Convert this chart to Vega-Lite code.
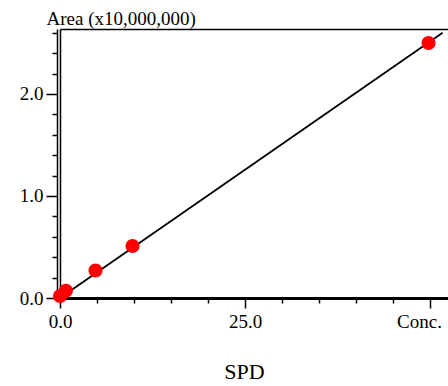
{
  "$schema": "https://vega.github.io/schema/vega-lite/v6.json",
  "width": 388,
  "height": 269,
  "autosize": "none",
  "padding": {"left": 60, "top": 29, "right": 0, "bottom": 88},
  "background": "white",
  "config": {
    "view": {"stroke": null},
    "font": "Liberation Serif",
    "axis": {"labelFont": "Liberation Serif", "titleFont": "Liberation Serif", "labelColor": "black", "titleColor": "black", "domainColor": "black", "tickColor": "black", "grid": false, "titleFontWeight": "normal"}
  },
  "datasets": {
    "fit": [{"conc": 0, "area": 0}, {"conc": 51.7, "area": 2.6}],
    "pts": [
      {"conc": 0, "area": 0.02},
      {"conc": 0.8, "area": 0.07},
      {"conc": 4.8, "area": 0.27},
      {"conc": 9.8, "area": 0.51},
      {"conc": 49.8, "area": 2.5}
    ]
  },
  "resolve": {"axis": {"x": "independent", "y": "independent"}},
  "layer": [
    {
      "data": {"name": "fit"},
      "mark": {"type": "line", "color": "black", "strokeWidth": 1.8},
      "encoding": {
        "x": {
          "field": "conc", "type": "quantitative",
          "scale": {"domain": [0, 52.43], "nice": false, "zero": false},
          "axis": {
            "orient": "bottom",
            "values": [0, 5, 10, 15, 20, 25, 30, 35, 40, 45, 50],
            "labelExpr": "datum.value == 0 ? '0.0' : datum.value == 25 ? '25.0' : datum.value == 50 ? 'Conc.' : ''",
            "labelFontSize": 19,
            "labelPadding": 4,
            "labelAlign": "center",
            "labelOffset": {"condition": {"test": "datum.value == 50", "value": -11}, "value": 0},
            "labelFlush": false,
            "labelOverlap": false,
            "tickSize": {"condition": {"test": "datum.value % 25 == 0", "value": 10}, "value": 5},
            "tickWidth": 1.5,
            "domainWidth": 2.8,
            "title": "SPD",
            "titleFontSize": 22,
            "titleX": 184,
            "titleY": 80,
            "titleAlign": "center",
            "titleBaseline": "alphabetic"
          }
        },
        "y": {
          "field": "area", "type": "quantitative",
          "scale": {"domain": [0, 2.637], "nice": false, "zero": false},
          "axis": {
            "orient": "left",
            "offset": 3,
            "values": [0, 0.2, 0.4, 0.6, 0.8, 1, 1.2, 1.4, 1.6, 1.8, 2, 2.2, 2.4, 2.6],
            "labelExpr": "round(datum.value * 5) % 5 == 0 ? format(datum.value, '.1f') : ''",
            "labelFontSize": 19,
            "labelPadding": 3,
            "labelBaseline": "middle",
            "labelOverlap": false,
            "labelFlush": false,
            "tickSize": {"condition": {"test": "round(datum.value * 5) % 5 == 0", "value": 11}, "value": 5},
            "tickWidth": 1.5,
            "domainWidth": 1.5,
            "title": "Area (x10,000,000)",
            "titleFontSize": 19,
            "titleAngle": 0,
            "titleAlign": "left",
            "titleBaseline": "alphabetic",
            "titleX": -11,
            "titleY": -5
          }
        }
      }
    },
    {
      "data": {"name": "pts"},
      "mark": {"type": "circle", "color": "#ff0000", "opacity": 1, "size": 200},
      "encoding": {
        "x": {
          "field": "conc", "type": "quantitative",
          "axis": {"orient": "top", "labels": false, "ticks": false, "title": null, "domainWidth": 1.5, "grid": false}
        },
        "y": {
          "field": "area", "type": "quantitative",
          "axis": {"orient": "left", "offset": 0, "labels": false, "ticks": false, "title": null, "domainWidth": 1.5, "grid": false}
        }
      }
    }
  ]
}
